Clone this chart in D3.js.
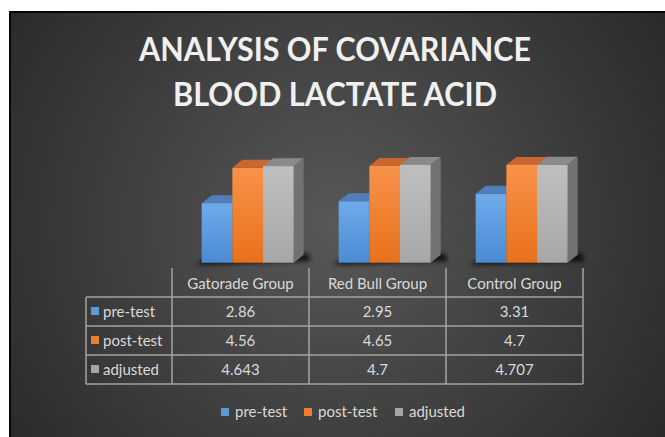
<!DOCTYPE html>
<html><head><meta charset="utf-8">
<script src="https://cdn.jsdelivr.net/npm/d3@7"></script>
<style>html,body{margin:0;padding:0;background:#fff;}svg{display:block;}</style>
</head><body>
<script>
const title = ["ANALYSIS OF COVARIANCE", "BLOOD LACTATE ACID"];
const categories = ["Gatorade Group", "Red Bull Group", "Control Group"];
const seriesNames = ["pre-test", "post-test", "adjusted"];
const preTest = [2.86, 2.95, 3.31];
const postTest = [4.56, 4.65, 4.7];
const adjusted = [4.643, 4.7, 4.707];
const seriesValues = [preTest, postTest, adjusted];

const W = 665, H = 437;
const svg = d3.select("body").append("svg").attr("width", W).attr("height", H);
const defs = svg.append("defs");

const bg = defs.append("radialGradient").attr("id", "bg").attr("gradientUnits", "userSpaceOnUse")
  .attr("cx", 335).attr("cy", 225).attr("r", 420);
bg.append("stop").attr("offset", 0).attr("stop-color", "#585858");
bg.append("stop").attr("offset", 1).attr("stop-color", "#272727");

const faces = [
  {front: ["#6fabea", "#4a8bd3"], top: "#4f7fb6", side: "#3d6a9e", key: "#5b9bd5"},
  {front: ["#f8924a", "#e8711b"], top: "#c9672f", side: "#b85a1e", key: "#ed7d31"},
  {front: ["#bfbfbf", "#a7a7a7"], top: "#8b8b8b", side: "#727272", key: "#a5a5a5"}
];
faces.forEach((f, i) => {
  const g = defs.append("linearGradient").attr("id", "fr" + i).attr("x1", 0).attr("y1", 0).attr("x2", 0).attr("y2", 1);
  g.append("stop").attr("offset", 0).attr("stop-color", f.front[0]);
  g.append("stop").attr("offset", 1).attr("stop-color", f.front[1]);
});
defs.append("filter").attr("id", "blur").attr("x", "-50%").attr("y", "-50%").attr("width", "200%").attr("height", "200%")
  .append("feGaussianBlur").attr("stdDeviation", 2.5);

svg.append("rect").attr("x", 0).attr("y", 0).attr("width", W).attr("height", H).attr("fill", "#fff");
svg.append("rect").attr("x", 9).attr("y", 11).attr("width", W - 9).attr("height", H - 11).attr("fill", "#050505");
svg.append("rect").attr("x", 11).attr("y", 13).attr("width", W - 11).attr("height", H - 13).attr("fill", "url(#bg)");

// Title
const titleWidths = [392, 324];
svg.append("g").selectAll("text").data(title).join("text")
  .attr("x", 335).attr("y", (d, i) => 61 + i * 45)
  .attr("text-anchor", "middle")
  .attr("font-family", "Lato, 'Open Sans', sans-serif").attr("font-weight", 700).attr("font-size", 33)
  .attr("fill", "#f0f0f0")
  .attr("textLength", (d, i) => titleWidths[i]).attr("lengthAdjust", "spacingAndGlyphs")
  .text(d => d);

// Scales
const x0 = d3.scaleBand().domain(categories).range([172, 583]);
const x1 = d3.scaleBand().domain(seriesNames).range([0, 92]);
const y = d3.scaleLinear().domain([0, 5]).range([262.7, 158.7]);
const barOffset = 29.7, dx = 10, dy = 8;

const chart = svg.append("g");
categories.forEach((c, ci) => {
  const gx = x0(c) + barOffset;
  const base = y(0);
  // floor shadow
  chart.append("path")
    .attr("d", `M${gx - 6},${base + 2} L${gx + 92 + dx + 7},${base - 2} L${gx + 92 + dx + 4},${base - dy - 1} L${gx + 2},${base - 3} Z`)
    .attr("fill", "#000").attr("opacity", 0.85).attr("filter", "url(#blur)");
  seriesNames.forEach((s, si) => {
    const v = seriesValues[si][ci];
    const xa = gx + x1(s), xb = xa + x1.bandwidth();
    const yt = y(v);
    const f = faces[si];
    chart.append("path").attr("d", `M${xa},${yt} L${xa + dx},${yt - dy} L${xb + dx},${yt - dy} L${xb},${yt} Z`).attr("fill", f.top);
    chart.append("path").attr("d", `M${xb},${yt} L${xb + dx},${yt - dy} L${xb + dx},${base - dy} L${xb},${base} Z`).attr("fill", f.side);
    chart.append("rect").attr("x", xa).attr("y", yt).attr("width", x1.bandwidth()).attr("height", base - yt).attr("fill", `url(#fr${si})`);
  });
});

// Data table
const lineColor = "#a3a3a3";
const rowTop = 297, rowH = 29, headTop = 268, tableLeft = 86;
const rows = d3.range(seriesNames.length + 1).map(i => rowTop + i * rowH);
const tbl = svg.append("g").attr("stroke", lineColor).attr("stroke-width", 1.5);
rows.forEach(ry => tbl.append("line").attr("x1", tableLeft).attr("x2", 583).attr("y1", ry).attr("y2", ry));
tbl.append("line").attr("x1", tableLeft).attr("x2", tableLeft).attr("y1", rowTop).attr("y2", rows[rows.length - 1]);
categories.forEach(c => tbl.append("line").attr("x1", x0(c)).attr("x2", x0(c)).attr("y1", headTop).attr("y2", rows[rows.length - 1]));
tbl.append("line").attr("x1", x0.range()[1]).attr("x2", x0.range()[1]).attr("y1", headTop).attr("y2", rows[rows.length - 1]);

const font = "Lato, 'Open Sans', sans-serif";
const txtColor = "#d9d9d9";
svg.append("g").selectAll("text").data(categories).join("text")
  .attr("x", d => x0(d) + x0.bandwidth() / 2).attr("y", 289)
  .attr("text-anchor", "middle").attr("font-family", font).attr("font-size", 15).attr("fill", txtColor).text(d => d);

seriesNames.forEach((s, si) => {
  const cy = rowTop + si * rowH + rowH / 2;
  svg.append("rect").attr("x", 91).attr("y", cy - 4.5).attr("width", 8).attr("height", 8).attr("fill", faces[si].key);
  svg.append("text").attr("x", 103).attr("y", cy + 5.5).attr("font-family", font).attr("font-size", 15).attr("fill", txtColor).text(s);
  svg.append("g").selectAll("text").data(seriesValues[si]).join("text")
    .attr("x", (d, ci) => x0(categories[ci]) + x0.bandwidth() / 2).attr("y", cy + 5.5)
    .attr("text-anchor", "middle").attr("font-family", font).attr("font-size", 15).attr("fill", txtColor)
    .text(d => String(d));
});

// Legend
const legendX = [221, 304, 395];
const lg = svg.append("g");
seriesNames.forEach((s, si) => {
  lg.append("rect").attr("x", legendX[si]).attr("y", 408).attr("width", 8).attr("height", 8).attr("fill", faces[si].key);
  lg.append("text").attr("x", legendX[si] + 14).attr("y", 417).attr("font-family", font).attr("font-size", 15).attr("fill", txtColor).text(s);
});
</script>
</body></html>
